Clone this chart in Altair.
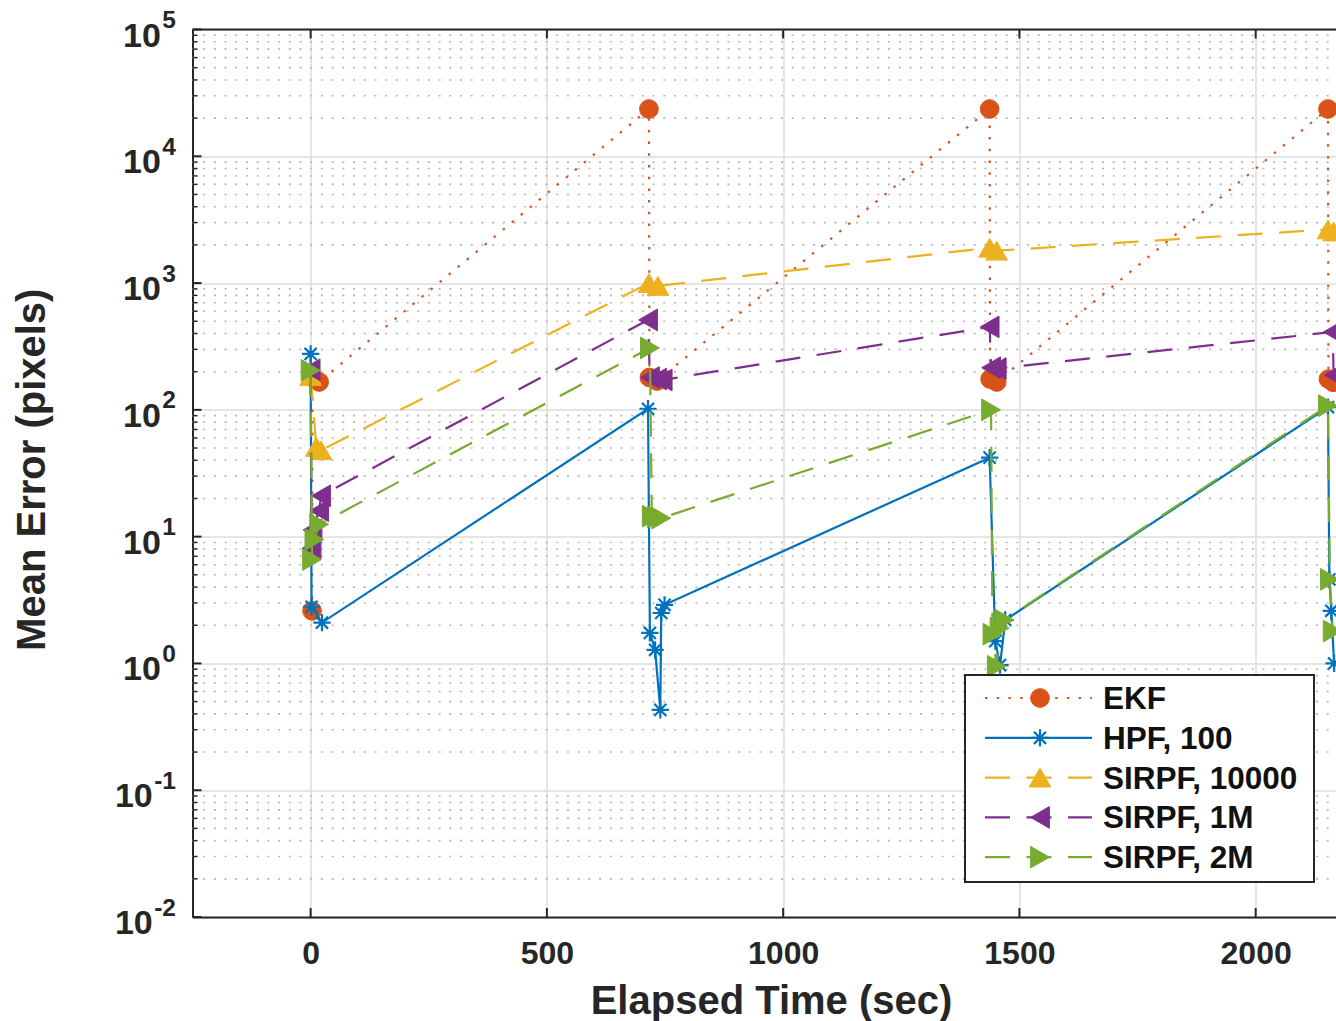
import altair as alt
import pandas as pd

# Elapsed time (sec) and mean tracking error (pixels) for each filter
ekf_t = [3, 4, 18, 716, 717, 733, 1437, 1438, 1452, 2153, 2154, 2164]
ekf_v = [2.6, 180, 166, 23600, 180, 169, 23600, 175, 166, 23600, 175, 165]

hpf_t = [0, 2, 24, 714, 718, 729, 740, 742, 749, 1437, 1449, 1459, 1470, 2153, 2156, 2160, 2166]
hpf_v = [276, 2.8, 2.1, 102, 1.74, 1.28, 0.43, 2.5, 2.9, 42, 1.5, 0.97, 2.2, 105, 4.6, 2.6, 1.0]

sir10k_t = [0, 12, 22, 716, 735, 1437, 1452, 2153, 2165]
sir10k_v = [185, 51, 48, 1000, 950, 1900, 1800, 2650, 2550]

sir1m_t = [0, 2, 4, 18, 22, 714, 718, 733, 745, 1437, 1440, 1452, 2163, 2165]
sir1m_v = [207, 8.1, 11.3, 16, 21, 512, 180, 175, 172, 451, 215, 212, 411, 188]

sir2m_t = [0, 3, 8, 18, 718, 722, 733, 742, 1440, 1443, 1452, 1458, 1468, 2153, 2157, 2163]
sir2m_v = [205, 6.6, 9.5, 12.5, 308, 14.5, 14.3, 14, 100, 1.7, 0.95, 1.9, 2.2, 108, 4.6, 1.8]

series_names = ["EKF", "HPF, 100", "SIRPF, 10000", "SIRPF, 1M", "SIRPF, 2M"]
series_data = [(ekf_t, ekf_v), (hpf_t, hpf_v), (sir10k_t, sir10k_v),
               (sir1m_t, sir1m_v), (sir2m_t, sir2m_v)]

x_ticks = [0, 500, 1000, 1500, 2000]
y_exponents = [-2, -1, 0, 1, 2, 3, 4, 5]

# styling
colors = ["#D95319", "#0072BD", "#EDB120", "#7E2F8E", "#77AC30"]
DOT = [2.5, 9.2]
DASH = [25, 16.5]
dashes = [DOT, None, DASH, DASH, DASH]
ASTERISK = "M-1,0L1,0M0,-1L0,1M-0.7,-0.7L0.7,0.7M-0.7,0.7L0.7,-0.7"
shapes = ["circle", ASTERISK, "triangle-up", "triangle-left", "triangle-right"]
sizes = [350, 300, 470, 470, 470]
filled = [True, False, True, True, True]

AX = "#262626"
FONT = "Liberation Sans"
W, H = 1143.5, 887.5

xscale = alt.Scale(domain=[-250, 2170], nice=False, zero=False)
yscale = alt.Scale(type="log", domain=[0.01, 100000], nice=False)

xaxis = alt.Axis(
    values=x_ticks, format="d", ticks=False, tickSize=0, domain=True, domainColor=AX, domainWidth=2,
    grid=True, gridColor="#dcdcdc", gridWidth=1.5,
    labelFont=FONT, labelFontSize=32, labelFontWeight="bold", labelColor=AX,
    labelPadding=46, labelBaseline="alphabetic", labelFlush=False,
    title="Elapsed Time (sec)", titleFont=FONT, titleFontSize=40, titleFontWeight="bold",
    titleColor=AX, titleX=578.5, titleY=96, titleBaseline="alphabetic", titleAlign="center",
)
yaxis = alt.Axis(
    values=[10.0 ** k for k in y_exponents], labels=False, ticks=False, tickSize=0,
    domain=True, domainColor=AX, domainWidth=2,
    grid=True, gridColor="#dcdcdc", gridWidth=1.5,
    title="Mean Error (pixels)", titleFont=FONT, titleFontSize=40, titleFontWeight="bold",
    titleColor=AX, titleX=-148, titleY=H / 2 - 4, titleBaseline="alphabetic", titleAlign="center",
    titleAngle=270,
)


def X(field):
    return alt.X(field, scale=xscale, axis=xaxis)


def Y(field):
    return alt.Y(field, scale=yscale, axis=yaxis)


layers = []

# dotted minor grid and inward minor ticks on the log axis
minor_vals = [m * 10.0 ** k for k in range(-2, 5) for m in range(2, 10)]
minor_df = pd.DataFrame({"v": minor_vals})
layers.append(alt.Chart(minor_df).mark_rule(color="#b5b5b5", strokeWidth=1.6, strokeDash=[2, 8.7]).encode(
    y=Y("v:Q"), x=alt.value(0), x2=alt.value(W)))
layers.append(alt.Chart(minor_df).mark_rule(color=AX, strokeWidth=1.5).encode(
    y=Y("v:Q"), x=alt.value(0), x2=alt.value(5)))

# major ticks (inward)
major_df = pd.DataFrame({"v": [10.0 ** k for k in y_exponents]})
layers.append(alt.Chart(major_df).mark_rule(color=AX, strokeWidth=2).encode(
    y=Y("v:Q"), x=alt.value(0), x2=alt.value(9)))
xt_df = pd.DataFrame({"t": x_ticks})
layers.append(alt.Chart(xt_df).mark_rule(color=AX, strokeWidth=2).encode(
    x=X("t:Q"), y=alt.value(H - 9), y2=alt.value(H)))
layers.append(alt.Chart(xt_df).mark_rule(color=AX, strokeWidth=2).encode(
    x=X("t:Q"), y=alt.value(0), y2=alt.value(9)))

# top frame line
layers.append(alt.Chart(pd.DataFrame({"a": [0]})).mark_rule(color=AX, strokeWidth=2).encode(
    x=alt.value(0), x2=alt.value(W), y=alt.value(0)))

# y tick labels: base "10" with a raised exponent
BASE_FS = 34
EXP_FS = 24.5
exp_txt = [str(k) for k in y_exponents]
exp_w = [sum(0.333 if ch == "-" else 0.556 for ch in s) * EXP_FS for s in exp_txt]
ylab_df = pd.DataFrame({
    "v": [10.0 ** k for k in y_exponents],
    "exp": exp_txt,
    "bx": [-16.5 - w - 1.5 for w in exp_w],
    "ex": [-16.5] * len(y_exponents),
    "base": ["10"] * len(y_exponents),
})
layers.append(alt.Chart(ylab_df).mark_text(
    font=FONT, fontSize=BASE_FS, fontWeight="bold", color=AX, align="right", baseline="alphabetic", dy=17
).encode(y=Y("v:Q"), x=alt.X("bx:Q", scale=None), text="base:N"))
layers.append(alt.Chart(ylab_df).mark_text(
    font=FONT, fontSize=EXP_FS, fontWeight="bold", color=AX, align="right", baseline="alphabetic", dy=-1.5
).encode(y=Y("v:Q"), x=alt.X("ex:Q", scale=None), text="exp:N"))

# data series: line then markers, in plotting order
for i, (name, (t, v)) in enumerate(zip(series_names, series_data)):
    df = pd.DataFrame({"t": t, "v": v, "idx": list(range(len(t)))})
    line_kw = dict(color=colors[i], strokeWidth=2.2, clip=True)
    if dashes[i]:
        line_kw["strokeDash"] = dashes[i]
    layers.append(alt.Chart(df).mark_line(**line_kw).encode(
        x=X("t:Q"), y=Y("v:Q"), order="idx:Q"))
    pt_kw = dict(shape=shapes[i], size=sizes[i], color=colors[i], clip=True, opacity=1)
    if filled[i]:
        pt_kw.update(filled=True, stroke=colors[i], strokeWidth=1)
    else:
        pt_kw.update(filled=False, strokeWidth=2.2)
    layers.append(alt.Chart(df).mark_point(**pt_kw).encode(x=X("t:Q"), y=Y("v:Q")))

# legend box
LX0, LX1, LY0, LY1 = 772.5, 1121.5, 645.5, 852.5
layers.append(alt.Chart(pd.DataFrame({"a": [0]})).mark_rect(
    fill="white", stroke=AX, strokeWidth=2).encode(
    x=alt.value(LX0), x2=alt.value(LX1), y=alt.value(LY0), y2=alt.value(LY1)))

ROW0, ROW_STEP = 668.5, 39.8
for i, name in enumerate(series_names):
    ry = ROW0 + ROW_STEP * i
    ldf = pd.DataFrame({"name": [name]})
    rule_kw = dict(color=colors[i], strokeWidth=2.2)
    if dashes[i]:
        rule_kw["strokeDash"] = dashes[i]
    layers.append(alt.Chart(ldf).mark_rule(**rule_kw).encode(
        x=alt.value(792.5), x2=alt.value(899.5), y=alt.value(ry)))
    pt_kw = dict(shape=shapes[i], size=sizes[i], color=colors[i], opacity=1)
    if filled[i]:
        pt_kw.update(filled=True, stroke=colors[i], strokeWidth=1)
    else:
        pt_kw.update(filled=False, strokeWidth=2.2)
    layers.append(alt.Chart(ldf).mark_point(**pt_kw).encode(x=alt.value(847.5), y=alt.value(ry)))
    layers.append(alt.Chart(ldf).mark_text(
        font=FONT, fontSize=31.5, fontWeight="bold", color="#111111", align="left", baseline="alphabetic"
    ).encode(x=alt.value(910.5), y=alt.value(ry + 11), text="name:N"))

chart = alt.layer(*layers).properties(
    width=W, height=H,
    autosize=alt.AutoSizeParams(type="none"),
    padding={"left": 192.5, "top": 29.5, "right": 0, "bottom": 104},
).configure_view(stroke="transparent").configure(background="white")

chart.save("out.html", embed_options={"renderer": "svg", "actions": False})
